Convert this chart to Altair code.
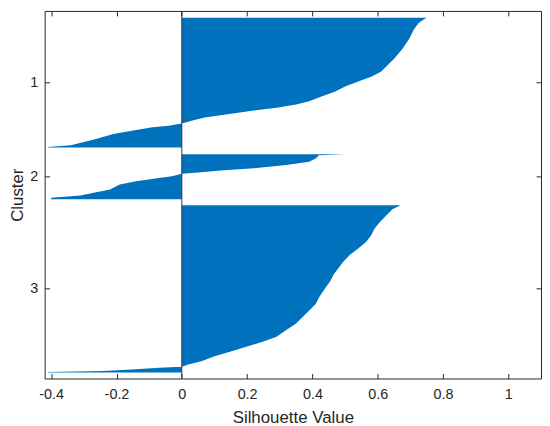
import altair as alt
import pandas as pd

# Silhouette values (sorted within each cluster, top to bottom)
c1_pos = [7, 12, 18.6, 28.6, 38.6, 48.6, 55.3, 62, 67, 72, 77, 82, 87, 92, 95.3, 98.6,
          102, 105.3, 108.6, 112, 114.6, 117, 118.6, 121.3, 125.3, 130.3, 133.6, 137, 138.6, 139.3]
c1_val = [0.749, 0.726, 0.711, 0.696, 0.676, 0.65, 0.63, 0.61, 0.58, 0.54, 0.50, 0.47, 0.43,
          0.39, 0.35, 0.29, 0.21, 0.14, 0.07, 0.03, 0.0, -0.04, -0.09, -0.14, -0.21, -0.26,
          -0.30, -0.34, -0.41, -0.41]

c2_pos = [146, 146.7, 147, 150.3, 153.6, 157, 160.3, 162.6, 164.6, 166, 168.6, 170.3, 173.6,
          177, 182, 185.3, 188, 190.3, 191.8]
c2_val = [0.50, 0.44, 0.42, 0.41, 0.39, 0.32, 0.22, 0.12, 0.05, 0.0, -0.03, -0.07, -0.14,
          -0.19, -0.22, -0.27, -0.31, -0.40, -0.40]

c3_pos = [198, 202, 208.6, 215.3, 222, 228.6, 235.3, 242, 248.6, 255.3, 262, 268.6, 275.3,
          282, 292, 298.6, 305.3, 312, 318.6, 325.3, 332, 337, 342, 347, 352, 357, 360.3,
          362.6, 363.6, 365.3, 367, 368, 368.6]
c3_val = [0.67, 0.645, 0.626, 0.606, 0.59, 0.58, 0.565, 0.54, 0.515, 0.495, 0.48, 0.465,
          0.455, 0.44, 0.42, 0.41, 0.39, 0.37, 0.35, 0.32, 0.29, 0.25, 0.20, 0.15, 0.10,
          0.06, 0.02, 0.0, -0.07, -0.14, -0.24, -0.41, -0.41]

cluster_names = ["1", "2", "3"]
cluster_ticks = [72.6, 168.6, 283.0]
x_ticks = [-0.4, -0.2, 0, 0.2, 0.4, 0.6, 0.8, 1.0]
x_domain = [-0.42, 1.1]
y_domain = [0, 374.6]

rows = []
for name, pos, val in zip(cluster_names, [c1_pos, c2_pos, c3_pos], [c1_val, c2_val, c3_val]):
    for p, v in zip(pos, val):
        rows.append({"cluster": name, "pos": p, "sil": v})
df = pd.DataFrame(rows)
zero_df = pd.DataFrame({"x": [0.0]})

BLUE = "#0072BD"
AX = "#262626"
FONT = "Liberation Sans"

xscale = alt.Scale(domain=x_domain, nice=False, zero=False)
yscale = alt.Scale(domain=y_domain, reverse=True, nice=False, zero=False)

ylab = "'" + cluster_names[-1] + "'"
for t, n in reversed(list(zip(cluster_ticks[:-1], cluster_names[:-1]))):
    ylab = f"abs(datum.value - {t}) < 1 ? '{n}' : ({ylab})"

inward = alt.ExprRef(expr="-5")
common = dict(tickSize=inward, domain=False, grid=False, ticks=True, tickColor=AX,
              tickWidth=1, zindex=2,
              labelColor=AX, labelFont=FONT, labelFontSize=14.5, titleFont=FONT,
              titleFontSize=17, titleFontWeight="normal", titleColor=AX)
notitle = {k: v for k, v in common.items() if not k.startswith("title")}

bottom_axis = alt.Axis(orient="bottom", values=x_ticks, labelPadding=14,
                       labelExpr="replace(format(datum.value, '~g'), '\u2212', '-')",
                       title="Silhouette Value", titlePadding=9, **common)
left_axis = alt.Axis(orient="left", values=cluster_ticks, labelPadding=12, labelExpr=ylab,
                     title="Cluster", titlePadding=3, **common)
top_axis = alt.Axis(orient="top", values=x_ticks, labels=False, title=None, **notitle)
right_axis = alt.Axis(orient="right", values=cluster_ticks, labels=False, title=None, **notitle)

area = alt.Chart(df).mark_area(orient="horizontal", color=BLUE, opacity=1,
                               interpolate="linear").encode(
    y=alt.Y("pos:Q", scale=yscale, axis=left_axis),
    x=alt.X("sil:Q", scale=xscale, axis=bottom_axis, stack=None),
    x2=alt.datum(0),
    detail="cluster:N",
)

ghost = alt.Chart(df).mark_point(opacity=0).encode(
    y=alt.Y("pos:Q", scale=yscale, axis=right_axis),
    x=alt.X("sil:Q", scale=xscale, axis=top_axis),
)

zero_rule = alt.Chart(zero_df).mark_rule(color="#333333", strokeWidth=1).encode(
    x=alt.X("x:Q", scale=xscale, axis=None),
)

chart = alt.layer(area, zero_rule, ghost).resolve_axis(
    x="independent", y="independent"
).properties(
    width=501, height=371, padding={"left": 0, "top": 0, "right": 0, "bottom": 0}
).configure_view(stroke=AX, strokeWidth=1)

chart.save("out.html", embed_options={"renderer": "svg", "actions": False})
